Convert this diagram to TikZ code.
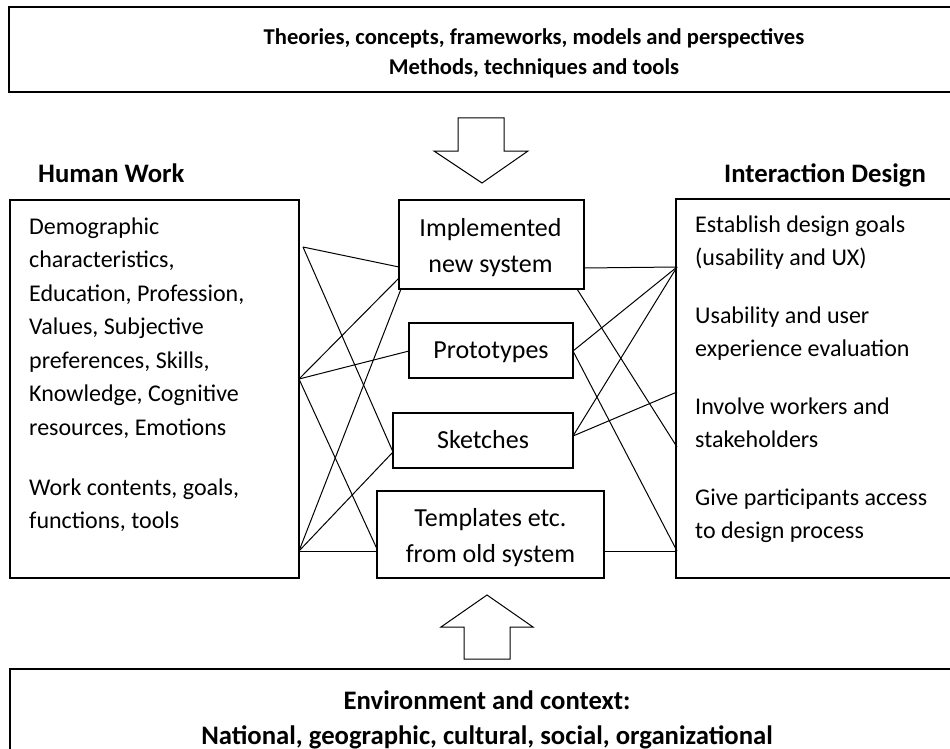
\documentclass[tikz,border=0pt]{standalone}
\usepackage{fontspec}
\setmainfont{Carlito}
\begin{document}
\begin{tikzpicture}[x=1pt,y=-1pt,
  boxline/.style={draw=black, line width=1.2pt, inner sep=0pt, outer sep=0pt},
  bigline/.style={draw=black, line width=1.6pt, inner sep=0pt, outer sep=0pt},
  conn/.style={draw=black, line width=1pt},
  arr/.style={draw=black, line width=1pt, fill=white, line join=miter},
  hdr/.style={font=\bfseries\fontsize{22.6}{30}\selectfont, inner sep=0pt, anchor=base},
  hdrbig/.style={font=\bfseries\fontsize{26.7}{32}\selectfont, inner sep=0pt, anchor=base},
  hdrw/.style={font=\bfseries\fontsize{26.7}{32}\selectfont, inner sep=0pt, anchor=base west},
  mid/.style={font=\fontsize{26}{36}\selectfont, inner sep=0pt, anchor=base},
  side/.style={font=\fontsize{24}{33.5}\selectfont, inner sep=0pt, anchor=base west}]
\useasboundingbox (0,0) rectangle (950,749);
\clip (0,0) rectangle (950,749);
\fill[white] (0,0) rectangle (950,749);

% big boxes
\node[bigline, minimum width=1051pt, minimum height=85pt] (topbox) at (534.5,49.5) {};
\node[bigline, minimum width=1050pt, minimum height=140pt] (botbox) at (535,739) {};
\node[hdr] (t1) at (534,45) {Theories, concepts, frameworks, models and perspectives};
\node[hdr] (t2) at (534,75) {Methods, techniques and tools};
\node[hdrbig] (b1) at (487,709) {Environment and context:};
\node[hdrbig] (b2) at (487,744) {National, geographic, cultural, social, organizational};

% block arrows
\draw[arr] (458,118) -- (504,118) -- (504,151) -- (528,151) -- (482,183) -- (434,151) -- (458,151) -- cycle;
\draw[arr] (487,595) -- (533,627) -- (510,627) -- (510,659) -- (464,659) -- (464,627) -- (441,627) -- cycle;

% headers
\node[hdrw] (hw) at (38,182) {Human Work};
\node[hdrw] (idh) at (724,182) {Interaction Design};

% side boxes
\node[boxline, minimum width=289pt, minimum height=378pt] (left) at (154.5,389) {};
\node[boxline, minimum width=290pt, minimum height=379pt] (right) at (821,388.5) {};

\node[side] (l1) at (29,234) {Demographic};
\node[side] (l2) at (29,267.5) {characteristics,};
\node[side] (l3) at (29,301) {Education, Profession,};
\node[side] (l4) at (29,334.5) {Values, Subjective};
\node[side] (l5) at (29,368) {preferences, Skills,};
\node[side] (l6) at (29,401.5) {Knowledge, Cognitive};
\node[side] (l7) at (29,435) {resources, Emotions};
\node[side] (l8) at (29,495) {Work contents, goals,};
\node[side] (l9) at (29,528) {functions, tools};

\node[side] (r1) at (695,232) {Establish design goals};
\node[side] (r2) at (695,265.5) {(usability and UX)};
\node[side] (r3) at (695,323) {Usability and user};
\node[side] (r4) at (695,356.5) {experience evaluation};
\node[side] (r5) at (695,414) {Involve workers and};
\node[side] (r6) at (695,447.5) {stakeholders};
\node[side] (r7) at (695,505) {Give participants access};
\node[side] (r8) at (695,538.5) {to design process};

% middle boxes
\node[boxline, minimum width=185pt, minimum height=89pt] (impl) at (491.5,244.5) {};
\node[boxline, minimum width=164pt, minimum height=55pt] (proto) at (491,350.5) {};
\node[boxline, minimum width=180pt, minimum height=55pt] (sketch) at (483,440.5) {};
\node[boxline, minimum width=227pt, minimum height=87pt] (templ) at (490.5,534.5) {};

\node[mid] (m1) at (490.5,236) {Implemented};
\node[mid] (m2) at (490.5,272) {new system};
\node[mid] (m3) at (491,358) {Prototypes};
\node[mid] (m4) at (483,448) {Sketches};
\node[mid] (m5) at (490.5,526) {Templates etc.};
\node[mid] (m6) at (490.5,562) {from old system};

% connection points
\coordinate (P1) at (303,247);
\coordinate (P2) at (299,379);
\coordinate (P3) at (299,551);
\coordinate (Q1) at (677,267);
\coordinate (Q2) at (677,392);
\coordinate (Q3) at (677,447);
\coordinate (Q4) at (677,551);
\coordinate (I1) at (399,267);
\coordinate (I2) at (399,278);
\coordinate (I3) at (401,289);
\coordinate (IR) at (584,268);
\coordinate (IB) at (577,289);
\coordinate (PL) at (409,351);
\coordinate (PR) at (573,351);
\coordinate (SL) at (393,452);
\coordinate (SR) at (573,436);
\coordinate (TL1) at (377,549);
\coordinate (TL2) at (377,551);
\coordinate (TR) at (604,551);

% connectors left
\draw[conn] (P1) -- (I1);
\draw[conn] (P1) -- (SL);
\draw[conn] (P2) -- (I2);
\draw[conn] (P2) -- (PL);
\draw[conn] (P2) -- (TL1);
\draw[conn] (P3) -- (I3);
\draw[conn] (P3) -- (SL);
\draw[conn] (P3) -- (TL2);
% connectors right
\draw[conn] (IR) -- (Q1);
\draw[conn] (PR) -- (Q1);
\draw[conn] (SR) -- (Q1);
\draw[conn] (SR) -- (Q2);
\draw[conn] (IB) -- (Q3);
\draw[conn] (PR) -- (Q4);
\draw[conn] (TR) -- (Q4);
\end{tikzpicture}
\end{document}
